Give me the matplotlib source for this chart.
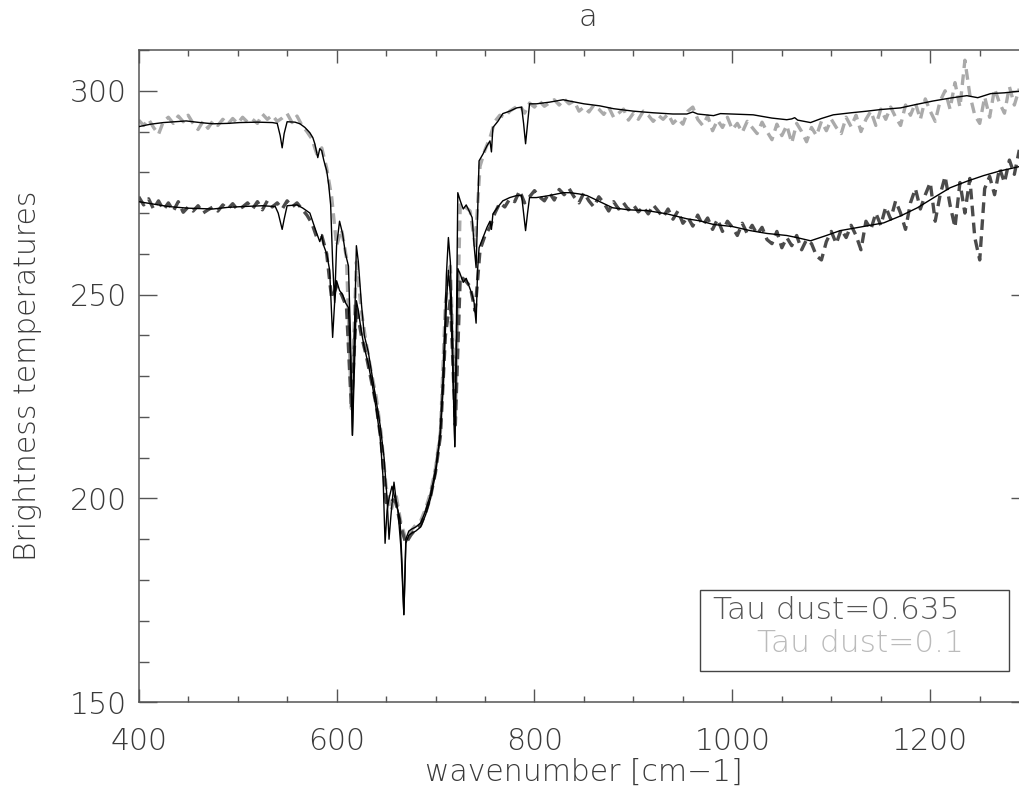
import numpy as np
import matplotlib
matplotlib.use("Agg")
import matplotlib.pyplot as plt
from matplotlib.patches import Rectangle
from matplotlib.ticker import MultipleLocator

# ---------------- data ----------------
# model spectrum, tau dust = 0.1 (upper black line)
model_hi_x = [400, 412, 425, 448, 462, 475, 490, 502, 520, 535, 540, 543, 545, 547, 550, 558, 563, 568,
              573, 576, 578, 581, 583, 585, 587, 590, 592, 594, 596, 598, 600, 603, 606, 609, 612, 614,
              616, 618, 620, 622, 625, 628, 632, 636, 640, 644, 648, 651, 653, 655, 658, 661, 664, 666,
              668, 670, 673, 676, 680, 685, 690, 695, 700, 705, 708, 711, 713, 715, 717, 719.5, 721,
              722.5, 725, 728, 731, 734, 737, 739, 741, 742.5, 744, 748, 752, 755, 756.5, 758, 763, 768,
              775, 782, 787, 789, 791, 793, 795, 802, 815, 829, 835, 850, 866, 880, 900, 920, 940, 954,
              960, 965, 981, 988, 1000, 1021, 1040, 1055, 1060, 1063, 1066, 1079, 1090, 1102, 1120,
              1136, 1150, 1170, 1185, 1203, 1220, 1237, 1248, 1261, 1275, 1290, 1300]
model_hi_y = [291.2, 291.8, 292.2, 292.6, 292.2, 291.9, 292.0, 292.2, 292.3, 292.2, 292.0, 289.0, 286.0,
              289.5, 292.4, 292.3, 291.9, 291.0, 289.7, 288.5, 287.0, 283.6, 285.8, 285.3, 283.0, 280.4,
              277.0, 272.0, 258.0, 248.0, 262.0, 268.0, 265.0, 260.0, 257.0, 240.0, 215.5, 240.0, 262.0,
              258.0, 248.0, 240.0, 236.0, 230.0, 224.0, 218.0, 210.0, 200.0, 190.0, 196.0, 204.0, 198.0,
              195.0, 185.0, 171.5, 190.0, 192.0, 192.5, 193.0, 194.0, 197.0, 201.0, 207.0, 216.0, 232.0,
              255.0, 264.0, 258.0, 240.0, 212.7, 240.0, 275.0, 273.0, 271.0, 272.0, 270.5, 268.9, 262.0,
              256.6, 270.0, 282.8, 284.5, 286.5, 287.7, 285.0, 291.0, 292.5, 294.4, 295.0, 295.8, 296.0,
              292.0, 287.0, 292.0, 296.8, 296.8, 297.2, 297.8, 297.5, 296.8, 296.3, 295.6, 295.0, 294.6,
              294.3, 294.3, 294.8, 294.3, 293.9, 294.4, 294.3, 294.1, 293.3, 292.9, 293.1, 293.4, 292.8,
              292.2, 293.2, 294.1, 294.6, 295.0, 295.4, 295.8, 296.6, 297.5, 298.2, 298.8, 298.3, 299.3,
              299.5, 299.9, 300.1]

# model spectrum, tau dust = 0.635 (lower black line)
model_lo_x = [400, 415, 430, 450, 475, 490, 505, 525, 538, 541, 543, 545, 547, 550, 560, 566, 573, 578,
              580, 583, 585, 587, 590, 593, 596, 598, 600, 603, 606, 609, 612, 614, 616, 618, 620, 622,
              625, 628, 632, 636, 640, 644, 647, 649, 651, 653, 656, 659, 662, 665, 668, 670, 673, 676,
              680, 685, 690, 695, 700, 704, 708, 711, 713, 715, 717, 719.5, 721, 722.5, 725, 728, 731,
              734, 737, 739, 741, 742.5, 744, 748, 752, 755, 756.5, 758, 763, 768, 775, 782, 787, 789,
              791, 793, 795, 802, 815, 829, 836, 845, 853, 866, 879, 895, 914, 934, 954, 967, 981, 1000,
              1018, 1035, 1055, 1065, 1079, 1095, 1109, 1130, 1153, 1170, 1187, 1205, 1220, 1237, 1254,
              1270, 1290, 1300]
model_lo_y = [272.8, 272.2, 271.6, 271.2, 271.0, 271.4, 271.6, 271.8, 271.6, 270.0, 268.0, 266.0, 268.5,
              271.8, 272.0, 271.2, 270.0, 266.4, 265.0, 263.0, 264.5, 262.0, 260.0, 256.0, 239.5, 248.0,
              253.4, 251.0, 250.0, 248.0, 246.8, 235.0, 215.5, 232.0, 248.5, 246.0, 241.0, 237.0, 233.0,
              228.0, 222.0, 215.0, 205.0, 189.0, 197.0, 200.0, 203.0, 200.0, 197.0, 188.0, 171.5, 189.0,
              191.0, 191.5, 192.0, 193.0, 196.0, 200.0, 206.0, 214.0, 228.0, 248.0, 256.0, 250.0, 235.0,
              212.7, 235.0, 256.4, 255.0, 253.0, 254.0, 252.0, 250.0, 248.0, 243.0, 256.0, 261.5, 264.0,
              266.5, 268.0, 266.0, 269.8, 271.5, 273.0, 273.8, 274.3, 274.3, 270.0, 265.7, 270.0, 273.8,
              273.8, 274.3, 275.0, 275.0, 274.7, 274.3, 272.8, 271.3, 270.8, 270.6, 269.8, 268.6, 268.1,
              267.2, 266.7, 265.7, 265.0, 264.5, 264.0, 263.2, 264.5, 265.7, 266.6, 267.6, 269.3, 271.3,
              274.0, 276.2, 277.8, 279.2, 280.3, 281.4, 282.0]

# observed spectra on a 5 cm-1 grid, 400 ... 1290
obs_x = np.arange(400, 1291, 5)
obs_hi = [
    292.8, 291.5, 293.0, 291.0, 289.3, 292.5, 293.5, 292.0, 293.8, 292.4,   # 400-445
    294.0, 292.0, 290.5, 292.5, 290.8, 292.6, 291.5, 293.0, 291.8, 293.2,   # 450-495
    292.0, 293.5, 292.3, 293.0, 292.0, 294.3, 293.0, 294.0, 292.5, 293.3,   # 500-545
    294.4, 292.2, 293.8, 291.5, 290.0, 288.2, 284.5, 286.0, 281.0, 274.0,   # 550-595
    262.0, 266.0, 259.0, 222.0, 258.0, 246.0, 238.0, 231.0, 225.0, 216.0,   # 600-645
    203.0, 197.0, 201.0, 194.0, 190.0, 192.0, 193.5, 194.5, 197.5, 201.5,   # 650-695
    207.5, 216.5, 248.0, 257.0, 220.0, 272.5, 271.5, 270.5, 262.0, 281.5,   # 700-745
    285.5, 288.5, 292.5, 294.0, 293.5, 295.0, 295.8, 296.5, 294.5, 297.0,   # 750-795
    296.0, 297.5, 296.2, 297.0, 297.8, 296.5, 298.0, 296.8, 297.5, 295.0,   # 800-845
    296.0, 294.8, 296.5, 295.5, 294.2, 296.0, 293.5, 294.5, 295.5, 292.8,   # 850-895
    294.5, 293.0, 295.0, 294.0, 292.5, 294.0, 293.0, 294.3, 292.0, 293.2,   # 900-945
    291.8, 295.0, 296.0, 293.0, 291.5, 293.8, 290.2, 292.8, 291.0, 293.5,   # 950-995
    290.5, 292.0, 289.8, 292.5, 291.0, 289.5, 292.3, 290.0, 288.0, 291.8,   # 1000-1045
    289.0, 291.5, 287.2, 292.0, 290.0, 287.5, 291.0, 289.0, 292.5, 290.2,   # 1050-1095
    293.0, 291.0, 289.5, 293.5, 291.2, 294.0, 290.0, 293.0, 295.0, 291.5,   # 1100-1145
    295.5, 293.0, 296.0, 293.5, 291.5, 296.5, 294.0, 297.0, 293.0, 298.0,   # 1150-1195
    295.0, 292.5, 297.5, 300.0, 295.5, 302.0, 296.0, 307.5, 299.0, 294.0,   # 1200-1245
    292.0, 298.5, 293.5, 300.5, 297.0, 294.5, 301.0, 296.5, 300.5,          # 1250-1290
]
obs_lo = [
    274.0, 272.0, 273.5, 271.0, 273.0, 270.8, 272.5, 270.5, 272.8, 270.2,   # 400-445
    271.5, 270.5, 271.8, 270.0, 270.8, 271.5, 270.5, 272.0, 271.0, 272.3,   # 450-495
    270.8, 271.5, 272.5, 271.0, 272.8, 270.8, 273.0, 271.5, 272.5, 271.0,   # 500-545
    273.0, 271.5, 272.5, 271.0, 269.5, 267.5, 264.0, 264.5, 260.0, 249.0,   # 550-595
    252.0, 250.0, 247.0, 222.0, 247.0, 240.0, 235.0, 229.0, 223.0, 214.0,   # 600-645
    199.0, 200.0, 199.0, 193.0, 189.0, 191.0, 192.5, 193.5, 196.5, 200.5,   # 650-695
    206.5, 215.5, 240.0, 249.0, 218.0, 254.5, 253.5, 252.0, 246.0, 261.0,   # 700-745
    264.5, 266.5, 270.0, 272.5, 271.5, 273.5, 272.8, 275.5, 272.5, 274.0,   # 750-795
    275.5, 274.0, 273.0, 275.0, 273.2, 275.8, 274.5, 276.0, 274.0, 272.5,   # 800-845
    275.0, 273.0, 271.5, 274.0, 272.5, 270.5, 272.8, 271.0, 272.5, 270.8,   # 850-895
    272.0, 270.3, 271.5, 269.8, 272.0, 270.5, 269.0, 271.0, 268.5, 270.5,   # 900-945
    267.5, 269.0, 266.8, 269.5, 267.0, 268.8, 266.0, 268.5, 265.5, 268.0,   # 950-995
    266.5, 264.5, 267.5, 265.0, 267.0, 264.8, 266.5, 263.5, 262.5, 265.5,   # 1000-1045
    261.5, 264.0, 262.0, 264.5, 261.0, 263.5, 262.5, 259.5, 258.5, 263.0,   # 1050-1095
    265.5, 262.5, 266.0, 264.0, 267.0, 264.5, 261.0, 268.0, 266.0, 270.0,   # 1100-1145
    267.0, 271.5, 268.5, 273.0, 270.0, 266.0, 272.5, 276.0, 271.0, 274.5,   # 1150-1195
    277.5, 268.0, 274.5, 279.0, 272.0, 266.5, 277.5, 270.0, 278.5, 264.0,   # 1200-1245
    258.5, 276.0, 279.0, 274.5, 281.0, 277.5, 283.0, 279.5, 285.5,          # 1250-1290
]

legend_labels = ["Tau dust=0.635", "Tau dust=0.1"]
x_ticks = [400, 600, 800, 1000, 1200]
y_ticks = [150, 200, 250, 300]

# ---------------- figure ----------------
FONT = "DejaVu Sans"
plt.rcParams["font.family"] = [FONT]
TXT = "#3a3a3a"
AX = "#555555"

fig = plt.figure(figsize=(10.19, 8.07), dpi=100)
ax = fig.add_axes([138.7 / 1019, 1 - 702.3 / 807, 890.5 / 1019, 652.3 / 807])

dash = (0, (3.2, 1.9))
ax.plot(obs_x, obs_hi, color="#aaaaaa", lw=2.4, linestyle=dash, zorder=2)
ax.plot(obs_x, obs_lo, color="#4b4b4b", lw=2.4, linestyle=dash, zorder=2)
ax.plot(model_hi_x, model_hi_y, color="black", lw=1.0, zorder=3)
ax.plot(model_lo_x, model_lo_y, color="black", lw=1.0, zorder=3)

ax.set_xlim(400, 1300)
ax.set_ylim(150, 310)
ax.set_xticks(x_ticks)
ax.set_yticks(y_ticks)
ax.xaxis.set_minor_locator(MultipleLocator(50))
ax.yaxis.set_minor_locator(MultipleLocator(10))

for s in ax.spines.values():
    s.set_color(AX)
    s.set_linewidth(1.1)

ax.tick_params(axis="x", which="major", direction="in", length=9.4, width=1.0, color=AX,
               top=True, bottom=True, labelsize=21.5, labelcolor=TXT, pad=18)
ax.tick_params(axis="x", which="minor", direction="in", length=4.3, width=1.0, color=AX,
               top=True, bottom=True)
ax.tick_params(axis="y", which="major", direction="in", length=13, width=1.0, color=AX,
               left=True, right=True, labelsize=21.5, labelcolor=TXT, pad=8.5)
ax.tick_params(axis="y", which="minor", direction="in", length=7.2, width=1.0, color=AX,
               left=True, right=True)
for lab in ax.get_xticklabels() + ax.get_yticklabels():
    lab.set_fontweight("light")

ax.set_xlabel("wavenumber [cm\u22121]", fontsize=21.5, color=TXT, fontweight="light", labelpad=1)
fig.text(28 / 1019, 1 - 376 / 807, "Brightness temperatures", rotation=90, fontsize=21.5,
         color=TXT, fontweight="light", ha="center", va="center")
fig.text(588 / 1019, 1 - 18 / 807, "a", fontsize=22, color=TXT, fontweight="light",
         ha="center", va="center")

ax.add_patch(Rectangle((0.630, 0.048), 0.3475, 0.124, transform=ax.transAxes, fill=False,
                       edgecolor="#444444", lw=1.0, zorder=5))
ax.text(0.645, 0.1277, legend_labels[0], transform=ax.transAxes, fontsize=22.5, color="#555555",
        fontweight="light", ha="left", va="baseline", zorder=6)
ax.text(0.694, 0.0771, legend_labels[1], transform=ax.transAxes, fontsize=22.5, color="#bbbbbb",
        fontweight="light", ha="left", va="baseline", zorder=6)

fig.savefig("out.png", dpi=100)
